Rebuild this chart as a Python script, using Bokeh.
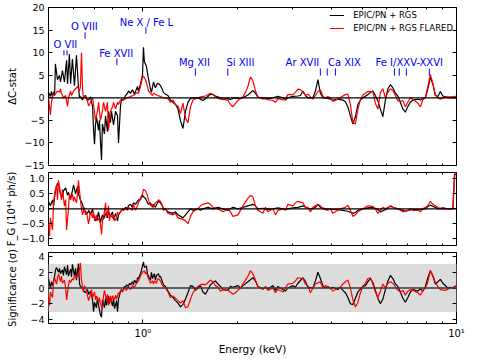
from bokeh.plotting import figure
from bokeh.models import (Range1d, FixedTicker, LogAxis, LinearAxis, Span,
                          BoxAnnotation, ColumnDataSource, Legend, LegendItem)
from bokeh.layouts import column
from bokeh.embed import file_html
from bokeh.resources import INLINE
from bokeh.core.properties import value

FONT = "DejaVu Sans"

# ------------------------------------------------------------------ data
# Delta C-stat, EPIC/PN + RGS (black)
dc_black_e = [
    0.500, 0.507, 0.511, 0.515, 0.519, 0.523, 0.526, 0.534, 0.542, 0.546,
    0.554, 0.562, 0.571, 0.575, 0.583, 0.588, 0.596, 0.605, 0.614, 0.623,
    0.628, 0.632, 0.642, 0.646, 0.656, 0.661, 0.671, 0.681, 0.691, 0.696,
    0.701, 0.706, 0.711, 0.716, 0.722, 0.727, 0.732, 0.738, 0.743, 0.754,
    0.760, 0.771, 0.777, 0.788, 0.794, 0.806, 0.818, 0.830, 0.836, 0.848,
    0.854, 0.867, 0.880, 0.893, 0.899, 0.913, 0.926, 0.940, 0.961, 0.968,
    0.982, 0.997, 1.004, 1.011, 1.026, 1.034, 1.042, 1.057, 1.065, 1.081,
    1.096, 1.113, 1.129, 1.146, 1.163, 1.180,
    1.202, 1.224, 1.247, 1.270, 1.294, 1.317, 1.342, 1.367, 1.392, 1.418,
    1.444, 1.498, 1.526, 1.554, 1.583, 1.612, 1.642, 1.673, 1.703, 1.767,
    1.800, 1.867, 1.902, 1.937, 1.973, 2.046, 2.084, 2.162, 2.243, 2.285,
    2.327, 2.414, 2.504, 2.598, 2.695, 2.796, 2.847, 2.900, 3.009, 3.121,
    3.179, 3.238, 3.298, 3.359, 3.485, 3.549, 3.615, 3.681, 3.750, 3.819,
    3.962, 4.035, 4.186, 4.342, 4.423, 4.505, 4.588, 4.673, 4.760, 4.848,
    4.938, 5.029, 5.217, 5.314, 5.412, 5.512, 5.614, 5.718, 5.824, 5.932,
    6.042, 6.154, 6.268, 6.384, 6.502, 6.622, 6.745, 6.870, 6.997, 7.127,
    7.259, 7.530, 7.670, 7.812, 7.956, 8.104, 8.254, 8.407, 8.562, 8.721,
    8.882, 9.047, 9.214, 9.558, 10.0]
dc_black = [
    1.2, 0.3, 1.4, 0.2, 1.3, 0.5, 7.5, 4.0, 5.0, 3.5,
    6.0, 3.5, 8.3, 3.1, 9.7, 3.1, 8.6, 2.7, 9.4, 2.4,
    0.1, 0.3, -0.5, 0.2, 0.5, -0.3, -0.5, 0.2, -2.0, -7.0,
    -10.3, -6.0, -4.3, -5.5, -7.2, -5.0, -9.5, -13.8, -5.8, -8.0,
    -4.0, -7.5, -3.0, -5.5, -3.0, -6.0, -3.0, -4.0, -10.0, -2.0,
    -0.3, -0.5, 0.5, 1.0, 1.5, 1.0, 1.8, 0.8, 2.5, 1.5,
    3.0, 5.0, 11.2, 8.0, 7.0, 5.5, 4.2, 2.0, 1.2, 3.5,
    2.2, 3.2, 3.0, 2.3, 1.2, 0.8,
    0.5, -0.5, -1.0, -1.5, -2.5, -5.0, -6.8, -3.0, -1.0, -0.2,
    0.0, 0.0, -0.3, -0.6, -0.2, 0.3, 0.8, 0.7, 0.4, 0.0,
    -0.3, -0.2, -0.4, -0.1, 0.0, -0.2, 0.0, 0.6, 1.6, 1.0,
    0.1, 0.0, -0.2, 0.0, 0.3, 0.0, -0.5, 0.0, 0.3, 0.4,
    0.5, 1.5, 0.5, 0.0, 0.0, 1.5, 4.0, 1.0, 0.0, 0.0,
    -0.3, -0.5, -0.3, -0.5, -0.9, -2.0, -4.0, -5.8, -4.2, -1.5,
    -0.5, 0.0, 0.7, 1.2, 1.5, 0.5, -0.7, -2.5, -4.2, -0.5,
    2.0, 2.9, 2.2, 1.0, 0.4, -1.0, -2.5, -3.2, -1.9, -1.0,
    -0.5, -0.3, -0.5, -0.2, 0.0, 2.0, 4.5, 3.0, 0.5, 0.3,
    1.4, 0.4, 0.2, 0.0, 0.0]

# Delta C-stat, EPIC/PN + RGS FLARED (red)
dc_red_e = [
    0.500, 0.507, 0.511, 0.515, 0.519, 0.526, 0.534, 0.542, 0.546, 0.550,
    0.558, 0.567, 0.575, 0.579, 0.588, 0.592, 0.601, 0.610, 0.619, 0.623,
    0.628, 0.632, 0.637, 0.642, 0.646, 0.656, 0.666, 0.671, 0.681, 0.691,
    0.696, 0.706, 0.716, 0.722, 0.732, 0.743, 0.749, 0.760, 0.771, 0.777,
    0.788, 0.800, 0.806, 0.818, 0.830, 0.836, 0.848, 0.867, 0.893, 0.913,
    0.933, 0.961, 0.968, 0.982, 0.997, 1.004, 1.019, 1.034, 1.042, 1.057,
    1.073, 1.081, 1.113, 1.137, 1.163, 1.180,
    1.202, 1.224, 1.247, 1.270, 1.294, 1.317, 1.342, 1.367, 1.392, 1.418,
    1.444, 1.498, 1.526, 1.583, 1.642, 1.673, 1.703, 1.767, 1.867, 1.902,
    1.937, 1.973, 2.010, 2.046, 2.084, 2.123, 2.162, 2.202, 2.243, 2.285,
    2.327, 2.414, 2.459, 2.504, 2.598, 2.646, 2.695, 2.745, 2.796, 2.847,
    2.900, 3.009, 3.064, 3.121, 3.179, 3.238, 3.298, 3.359, 3.421, 3.485,
    3.549, 3.615, 3.681, 3.750, 3.819, 3.890, 3.962, 4.035, 4.186, 4.263,
    4.342, 4.423, 4.505, 4.588, 4.673, 4.760, 4.848, 4.938, 5.029, 5.122,
    5.217, 5.412, 5.512, 5.614, 5.718, 5.824, 5.932, 6.042, 6.154, 6.268,
    6.384, 6.502, 6.622, 6.745, 6.870, 6.997, 7.127, 7.259, 7.393, 7.530,
    7.670, 7.812, 7.956, 8.104, 8.254, 8.407, 8.562, 8.721, 8.882, 9.214,
    9.558, 10.0]
dc_red = [
    0.0, -3.8, -1.0, 0.3, 1.0, 0.8, 1.5, 1.2, 2.0, 1.0,
    0.0, 0.5, -1.9, 0.0, 1.5, 0.5, 1.5, 2.0, 2.5, 2.0,
    1.5, 2.5, 10.0, 2.0, 0.0, 0.3, -0.8, -1.8, -1.0, 0.0,
    -1.5, -5.0, -3.0, -1.0, -5.0, -3.0, -1.0, -3.0, -1.0, -7.2,
    -3.0, -2.0, -1.0, -2.5, -1.0, -1.5, -0.5, -0.5, 0.0, 0.3,
    0.5, 1.2, 1.0, 2.5, 4.5, 4.8, 4.0, 2.5, 1.5, 1.0,
    0.5, 1.0, 0.5, 0.3, 0.0, -0.1,
    -0.2, -1.0, -0.5, -1.5, -1.8, -3.5, -1.2, -4.5, -5.5, -2.0,
    -0.5, 0.0, 0.2, 0.4, 1.0, 0.7, 0.2, -0.3, -0.5, -1.5,
    -2.0, -1.3, -0.6, -0.1, 0.2, 1.2, 2.5, 4.6, 3.8, 1.5,
    0.2, -0.3, -0.2, -0.4, -0.6, -1.0, -0.2, -0.3, -0.5, -0.3,
    0.7, 0.7, 1.2, 1.9, 1.8, 1.3, 0.5, 0.8, 0.2, -0.3,
    0.5, 1.4, 1.8, 0.3, 0.0, 0.3, 0.0, -0.8, -0.3, 0.0,
    0.4, 0.7, 0.8, -1.5, -5.5, -5.8, -2.5, -0.5, 0.6, 1.0,
    1.4, 1.3, -1.2, -2.5, 1.2, 2.0, 0.0, 1.2, 2.0, 1.6,
    0.5, -0.7, -0.8, -0.6, -2.0, -1.0, 0.0, -0.4, -0.7, -1.2,
    -2.0, -0.4, 0.0, 2.5, 5.2, 3.2, 0.6, 0.0, -0.3, 0.2,
    0.2, 0.3]

# F_G (10^41 ph/s), black
fg_black_e = [
    0.500, 0.507, 0.515, 0.519, 0.526, 0.534, 0.538, 0.546, 0.554, 0.558,
    0.567, 0.575, 0.579, 0.588, 0.596, 0.601, 0.610, 0.619, 0.623, 0.632,
    0.642, 0.646, 0.656, 0.666, 0.671, 0.681, 0.691, 0.696, 0.706, 0.716,
    0.722, 0.732, 0.743, 0.749, 0.760, 0.771, 0.777, 0.788, 0.800, 0.806,
    0.818, 0.830, 0.836, 0.848, 0.861, 0.867, 0.880, 0.893, 0.899, 0.913,
    0.926, 0.933, 0.947, 0.961, 0.968, 0.982, 0.997, 1.004, 1.019, 1.034,
    1.042, 1.057, 1.073, 1.081, 1.096, 1.113, 1.121, 1.137, 1.154, 1.163,
    1.180, 1.202, 1.247, 1.270, 1.294, 1.342, 1.367, 1.392, 1.418, 1.444,
    1.498, 1.526, 1.554, 1.612, 1.673, 1.735, 1.800, 1.867, 1.937, 2.010,
    2.084, 2.162, 2.243, 2.285, 2.327, 2.414, 2.504, 2.598, 2.695, 2.796,
    2.847, 2.900, 3.009, 3.121, 3.238, 3.359, 3.485, 3.549, 3.615, 3.681,
    3.819, 3.962, 4.186, 4.342, 4.505, 4.673, 4.760, 4.848, 5.029, 5.217,
    5.412, 5.614, 5.718, 5.932, 6.042, 6.154, 6.268, 6.502, 6.745, 6.870,
    6.997, 7.259, 7.670, 7.956, 8.104, 8.254, 8.562, 8.721, 9.047, 9.385,
    9.735, 9.855, 10.0]
fg_black = [
    0.25, 0.1, 0.3, 0.1, 0.6, 0.85, 0.8, 0.5, 0.4, 0.6,
    0.7, 0.45, 0.55, 0.35, 0.6, 0.8, 0.5, 0.75, 0.5, 0.3,
    0.15, 0.0, -0.1, -0.15, -0.05, -0.2, 0.0, -0.2, -0.4, -0.3,
    -0.1, -0.45, -0.2, -0.35, -0.15, -0.3, -0.1, -0.25, -0.1, -0.35,
    -0.15, -0.4, -0.2, -0.1, 0.0, -0.05, 0.05, 0.0, 0.1, 0.15,
    0.05, 0.2, 0.15, 0.25, 0.3, 0.3, 0.45, 0.4, 0.35, 0.2,
    0.15, 0.2, 0.05, 0.15, 0.05, 0.2, 0.25, 0.2, 0.1, 0.0,
    0.0, -0.1, -0.15, -0.1, -0.2, -0.3, -0.2, -0.1, 0.0, -0.05,
    0.0, -0.05, 0.0, 0.05, 0.0, 0.05, 0.0, -0.05, 0.05, 0.0,
    0.05, 0.1, 0.15, 0.1, 0.0, 0.02, -0.02, 0.0, 0.03, 0.0,
    -0.03, 0.0, 0.03, 0.05, 0.1, 0.02, 0.0, 0.05, 0.15, 0.05,
    0.0, -0.02, -0.03, -0.05, -0.08, -0.15, -0.12, -0.05, 0.0, 0.03,
    0.05, -0.02, -0.1, -0.03, 0.03, 0.1, 0.05, 0.0, -0.05, -0.08,
    -0.05, -0.02, -0.03, 0.0, 0.08, 0.12, 0.05, 0.0, 0.03, 0.0,
    0.0, 1.15, 1.15]

# F_G (10^41 ph/s), red
fg_red_e = [
    0.500, 0.504, 0.507, 0.515, 0.519, 0.523, 0.530, 0.534, 0.538, 0.546,
    0.550, 0.554, 0.562, 0.567, 0.571, 0.579, 0.583, 0.588, 0.596, 0.601,
    0.605, 0.614, 0.619, 0.623, 0.632, 0.637, 0.642, 0.651, 0.656, 0.661,
    0.671, 0.676, 0.681, 0.691, 0.696, 0.701, 0.711, 0.716, 0.722, 0.732,
    0.738, 0.743, 0.754, 0.760, 0.765, 0.777, 0.782, 0.788, 0.800, 0.806,
    0.812, 0.824, 0.830, 0.836, 0.848, 0.861, 0.867, 0.880, 0.893, 0.899,
    0.913, 0.926, 0.933, 0.947, 0.961, 0.968, 0.982, 0.997, 1.004, 1.019,
    1.034, 1.042, 1.057, 1.073, 1.081, 1.096, 1.113, 1.121, 1.137, 1.154,
    1.163,
    1.180, 1.202, 1.247, 1.270, 1.294, 1.342, 1.367, 1.392, 1.418, 1.444,
    1.498, 1.526, 1.554, 1.612, 1.642, 1.673, 1.735, 1.767, 1.800, 1.867,
    1.902, 1.937, 2.010, 2.046, 2.084, 2.162, 2.202, 2.243, 2.285, 2.327,
    2.414, 2.459, 2.504, 2.598, 2.646, 2.695, 2.796, 2.847, 2.900, 3.009,
    3.064, 3.121, 3.238, 3.298, 3.359, 3.421, 3.485, 3.615, 3.681, 3.750,
    3.890, 3.962, 4.035, 4.186, 4.263, 4.423, 4.505, 4.588, 4.673, 4.760,
    4.848, 5.029, 5.122, 5.217, 5.412, 5.512, 5.614, 5.718, 5.824, 5.932,
    6.042, 6.154, 6.268, 6.502, 6.622, 6.745, 6.997, 7.127, 7.259, 7.530,
    7.670, 7.812, 8.104, 8.254, 8.407, 8.721, 8.882, 9.735, 9.916, 10.0]
fg_red = [
    -0.5, -0.9, -0.3, -0.7, 0.2, 0.5, 0.8, 0.3, 0.95, 0.5,
    0.3, 0.65, 0.1, 0.3, -0.7, 0.0, 0.5, 0.3, 0.5, 0.25,
    0.4, 0.2, 0.5, 0.95, 0.3, 0.0, -0.2, 0.05, -0.2, -0.1,
    -0.5, -0.3, -0.1, -0.3, -0.1, -0.4, -0.2, -0.4, -0.3, -0.5,
    -0.85, -0.4, -0.1, 0.2, -0.3, 0.1, -0.4, -0.2, -0.3, -0.2,
    -0.4, -0.3, -0.1, -0.2, -0.1, 0.0, -0.05, 0.0, -0.05, 0.05,
    0.0, -0.05, 0.15, -0.05, 0.1, 0.2, 0.35, 0.5, 0.65, 0.6,
    0.45, 0.3, 0.1, 0.15, 0.05, 0.2, 0.25, 0.3, 0.25, 0.1,
    -0.05,
    0.0, -0.15, -0.2, -0.15, -0.3, -0.35, -0.4, -0.5, -0.25, -0.1,
    0.0, 0.1, 0.15, 0.2, 0.15, 0.05, 0.0, -0.05, -0.1, 0.0,
    -0.1, -0.25, -0.2, -0.05, 0.1, 0.35, 0.45, 0.4, 0.1, -0.05,
    -0.15, 0.05, -0.1, 0.0, -0.2, -0.05, 0.0, -0.05, 0.15, 0.1,
    0.2, 0.25, 0.2, 0.05, 0.05, -0.1, 0.05, 0.15, 0.1, 0.0,
    -0.05, 0.0, -0.15, -0.05, 0.0, 0.05, 0.12, -0.05, -0.25, -0.2,
    -0.1, 0.0, 0.05, 0.1, 0.08, 0.0, -0.15, -0.05, 0.05, 0.0,
    0.05, 0.08, 0.05, 0.0, -0.05, -0.1, -0.05, 0.0, -0.05, -0.05,
    -0.1, 0.0, 0.1, 0.25, 0.15, 0.05, 0.0, 0.0, 1.4, 1.4]

# Significance (sigma), black
sig_black_e = [
    0.500, 0.507, 0.511, 0.515, 0.523, 0.526, 0.530, 0.538, 0.542, 0.546,
    0.554, 0.558, 0.562, 0.571, 0.575, 0.579, 0.588, 0.592, 0.596, 0.605,
    0.610, 0.614, 0.623, 0.628, 0.632, 0.642, 0.646, 0.656, 0.666, 0.671,
    0.681, 0.691, 0.696, 0.701, 0.711, 0.716, 0.722, 0.732, 0.738, 0.743,
    0.754, 0.760, 0.765, 0.777, 0.782, 0.788, 0.800, 0.806, 0.812, 0.824,
    0.830, 0.836, 0.848, 0.854, 0.861, 0.873, 0.880, 0.886, 0.899, 0.906,
    0.913, 0.926, 0.933, 0.940, 0.954, 0.961, 0.968, 0.982, 0.989, 0.997,
    1.004, 1.011, 1.026, 1.034, 1.042, 1.057, 1.065, 1.073, 1.088, 1.096,
    1.105, 1.121, 1.129, 1.137, 1.154, 1.163,
    1.180, 1.202, 1.224, 1.247, 1.270, 1.294, 1.317, 1.342, 1.367, 1.392,
    1.418, 1.444, 1.471, 1.498, 1.526, 1.554, 1.583, 1.612, 1.642, 1.673,
    1.703, 1.735, 1.767, 1.800, 1.867, 1.902, 1.937, 2.010, 2.046, 2.084,
    2.162, 2.243, 2.285, 2.327, 2.414, 2.459, 2.504, 2.598, 2.646, 2.695,
    2.796, 2.847, 2.900, 3.009, 3.064, 3.121, 3.238, 3.298, 3.359, 3.485,
    3.549, 3.615, 3.681, 3.750, 3.819, 3.890, 3.962, 4.035, 4.186, 4.263,
    4.342, 4.423, 4.505, 4.588, 4.673, 4.760, 4.848, 5.029, 5.122, 5.217,
    5.314, 5.412, 5.512, 5.614, 5.718, 5.824, 5.932, 6.042, 6.154, 6.268,
    6.384, 6.502, 6.622, 6.745, 6.870, 6.997, 7.127, 7.259, 7.530, 7.670,
    7.812, 7.956, 8.104, 8.254, 8.407, 8.562, 8.721, 8.882, 9.047, 9.385,
    9.558, 9.735, 10.0]
sig_black = [
    1.2, 0.0, 0.8, 0.3, 1.5, 2.2, 2.6, 2.0, 2.5, 1.8,
    2.3, 1.6, 2.7, 1.7, 2.9, 1.5, 2.4, 1.4, 3.0, 1.5,
    2.5, 1.0, 3.1, 0.5, 0.2, 0.0, -0.3, -0.6, -0.2, -0.8,
    -0.4, -1.5, -3.0, -1.8, -2.5, -1.2, -2.2, -3.4, -3.7, -1.5,
    -2.5, -1.3, -2.2, -1.0, -2.0, -1.2, -2.3, -1.4, -2.6, -1.6,
    -3.0, -1.4, -0.5, -0.2, -0.5, 0.2, 0.0, 0.4, 0.2, 0.6,
    0.4, 0.8, 0.4, 1.0, 0.6, 1.3, 1.2, 1.8, 2.2, 2.8,
    3.3, 2.6, 2.8, 1.8, 1.5, 1.0, 2.0, 1.2, 1.8, 1.0,
    1.6, 1.8, 1.4, 1.5, 0.8, 0.4,
    0.2, -0.4, -0.9, -1.2, -1.6, -1.9, -2.4, -2.1, -1.4, -0.6,
    0.3, 0.2, -0.3, 0.0, 0.3, -0.5, -0.8, -0.2, 0.4, 0.7,
    0.9, 0.5, 0.2, -0.2, -0.3, 0.2, 0.1, 0.3, 0.0, 0.3,
    0.8, 1.3, 0.9, 0.2, -0.1, 0.1, -0.1, 0.3, -0.3, 0.2,
    -0.2, -0.4, 0.0, 0.3, 0.1, 0.6, 1.3, 0.8, 0.1, 0.0,
    0.9, 2.0, 1.2, 0.3, 0.0, 0.2, -0.1, 0.1, -0.2, 0.1,
    -0.3, -0.6, -1.2, -2.0, -2.1, -1.3, -0.5, 0.2, 0.3, 0.8,
    1.2, 0.7, -0.3, -1.3, -2.0, -1.4, -0.2, 0.9, 1.6, 1.2,
    0.5, 0.2, -0.5, -1.3, -1.8, -1.2, -0.5, -0.2, -0.4, -0.1,
    -0.4, 0.2, 1.3, 2.2, 1.5, 0.5, 0.8, 1.1, 0.6, 0.0,
    0.1, 0.0, 0.3]

# Significance (sigma), red
sig_red_e = [
    0.500, 0.504, 0.507, 0.515, 0.519, 0.523, 0.530, 0.534, 0.538, 0.546,
    0.550, 0.554, 0.562, 0.567, 0.571, 0.579, 0.583, 0.588, 0.596, 0.601,
    0.605, 0.614, 0.619, 0.623, 0.632, 0.637, 0.642, 0.646, 0.651, 0.661,
    0.666, 0.671, 0.681, 0.686, 0.691, 0.701, 0.706, 0.711, 0.722, 0.727,
    0.732, 0.743, 0.749, 0.754, 0.765, 0.771, 0.777, 0.788, 0.794, 0.800,
    0.812, 0.818, 0.824, 0.836, 0.842, 0.848, 0.861, 0.873, 0.886, 0.899,
    0.913, 0.926, 0.940, 0.954, 0.968, 0.982, 0.997, 1.011, 1.019, 1.026,
    1.042, 1.049, 1.057, 1.073, 1.081, 1.088, 1.105, 1.113, 1.121, 1.137,
    1.146, 1.154, 1.171,
    1.180, 1.202, 1.224, 1.247, 1.270, 1.294, 1.317, 1.342, 1.367, 1.392,
    1.418, 1.444, 1.471, 1.498, 1.526, 1.554, 1.583, 1.612, 1.642, 1.673,
    1.703, 1.735, 1.767, 1.800, 1.867, 1.902, 1.937, 1.973, 2.010, 2.046,
    2.084, 2.162, 2.202, 2.243, 2.285, 2.327, 2.414, 2.459, 2.504, 2.598,
    2.646, 2.695, 2.796, 2.847, 2.900, 3.009, 3.064, 3.121, 3.238, 3.298,
    3.359, 3.421, 3.485, 3.549, 3.681, 3.750, 3.819, 3.962, 4.035, 4.110,
    4.263, 4.342, 4.423, 4.505, 4.588, 4.673, 4.760, 4.848, 4.938, 5.029,
    5.122, 5.217, 5.314, 5.412, 5.512, 5.614, 5.718, 5.824, 5.932, 6.042,
    6.154, 6.268, 6.502, 6.622, 6.745, 6.870, 6.997, 7.127, 7.259, 7.530,
    7.670, 7.812, 7.956, 8.104, 8.254, 8.407, 8.562, 8.721, 8.882, 9.214,
    9.558, 9.735, 10.0]
sig_red = [
    -1.0, -2.2, -0.5, -1.2, 0.8, 1.3, 0.5, 1.2, 1.8, 0.8,
    1.5, 0.6, 1.0, 0.0, -1.5, 0.3, 1.0, 0.7, 1.2, 1.0,
    1.6, 1.2, 1.8, 1.5, 3.2, 1.0, 0.0, -0.5, 0.3, -0.3,
    -1.0, -1.6, -0.8, -0.2, -1.2, -0.5, -1.5, -1.0, -1.8, -1.2,
    -2.0, -2.6, -1.0, -0.3, -1.5, -0.8, -2.2, -1.0, -1.8, -1.0,
    -1.5, -0.9, -1.4, -0.6, -0.8, -0.3, -0.4, 0.0, -0.3, 0.2,
    -0.2, 0.3, 0.1, 0.6, 0.9, 1.5, 2.0, 2.2, 1.8, 2.0,
    1.2, 1.0, 0.6, 0.9, 0.5, 0.9, 0.6, 1.1, 1.2, 0.9,
    0.6, 0.3, 0.1,
    0.0, -0.5, -1.2, -1.0, -1.3, -1.6, -1.9, -1.6, -2.5, -2.4,
    -1.4, -0.6, -0.2, 0.2, 0.4, 0.5, 0.4, 0.7, 1.0, 0.8,
    0.3, 0.1, -0.4, -0.2, -0.3, -0.5, -0.8, -0.6, -0.3, 0.0,
    0.5, 1.5, 2.2, 1.8, 1.0, 0.2, -0.2, 0.2, -0.3, 0.0,
    -0.6, -0.2, -0.5, 0.0, 0.5, 0.6, 0.9, 1.3, 1.2, 0.5,
    0.3, -0.6, 0.0, 0.5, 0.8, 0.0, 0.3, 0.0, -0.4, -0.2,
    0.1, 0.5, 0.8, 1.0, 0.0, -1.5, -2.4, -1.8, -0.6, 0.2,
    0.6, 1.2, 1.3, 0.5, -0.5, -1.2, -0.4, 0.5, 0.0, 0.6,
    0.8, 0.6, -0.3, -0.5, -0.3, -0.9, -0.4, -0.2, -0.3, -0.6,
    -0.9, -0.3, 0.0, 0.8, 2.2, 1.6, 0.7, 0.2, -0.2, -0.3,
    0.0, 0.1, 0.3]

# ion line identifications
ion_labels = ["O VII", "O VIII", "Fe XVII", "Ne X / Fe L", "Mg XII",
              "Si XIII", "Ar XVII", "Ca XIX", "Fe I/XXV-XXVI"]
ion_label_e = [0.566, 0.651, 0.822, 1.026, 1.46, 2.046, 3.226, 4.39, 7.07]
ion_label_y = [11.8, 15.8, 9.8, 16.7, 7.8, 7.8, 7.8, 7.8, 7.8]
line_e = [0.560, 0.573, 0.654, 0.826, 1.022, 1.47, 1.865,
          3.68, 3.87, 4.11, 6.34, 6.57, 6.92, 8.19]
line_y_top = [10.5, 10.5, 14.5, 8.7, 15.6, 6.5, 6.5,
              6.5, 6.5, 6.5, 6.5, 6.5, 6.5, 6.5]
line_y_bot = [9.4, 9.4, 13.1, 7.2, 14.2, 4.9, 4.9,
              4.9, 4.9, 4.9, 4.9, 4.9, 4.9, 4.9]

x_major = [1, 10]
x_minor = [0.5, 0.6, 0.7, 0.8, 0.9, 2, 3, 4, 5, 6, 7, 8, 9]
x_tick_labels = {1: "10⁰", 10: "10¹"}
dc_ticks = [-15, -10, -5, 0, 5, 10, 15, 20]
fg_ticks = [-1.0, -0.5, 0.0, 0.5, 1.0]
sig_ticks = [-4, -2, 0, 2, 4]

for a, b in [(dc_black_e, dc_black), (dc_red_e, dc_red), (fg_black_e, fg_black),
             (fg_red_e, fg_red), (sig_black_e, sig_black), (sig_red_e, sig_red)]:
    assert len(a) == len(b), (len(a), len(b))


# ------------------------------------------------------------------ helpers
def minus_labels(ticks, fmt):
    return {t: (fmt % t).replace("-", "\u2212") for t in ticks}


def style_axis(ax, size="9.5px"):
    ax.axis_line_color = None
    ax.major_tick_in = 4
    ax.major_tick_out = 0
    ax.minor_tick_in = 2
    ax.minor_tick_out = 0
    ax.major_tick_line_color = "black"
    ax.minor_tick_line_color = "black"
    ax.major_label_text_font = FONT
    ax.major_label_text_color = "black"
    ax.major_label_text_font_size = size
    ax.major_label_standoff = 4
    ax.axis_label_text_font = FONT
    ax.axis_label_text_font_style = "normal"
    ax.axis_label_text_font_size = "10px"
    ax.axis_label_text_color = "black"


def hide_labels(ax, ticks):
    # axis kept only for its inward tick marks
    ax.major_label_overrides = {t: " " for t in ticks}
    ax.major_label_text_font_size = "1px"
    ax.major_label_text_alpha = 0
    ax.major_label_standoff = 0


xr = Range1d(0.5, 10)


def make_fig(height, yr, ticks, labels, ylabel, ylabel_standoff, bt, bb, show_x):
    p = figure(width=472, height=height, x_axis_type="log", x_range=xr, y_range=yr,
               output_backend="svg", toolbar_location=None,
               min_border_left=48, min_border_right=16,
               min_border_top=bt, min_border_bottom=bb)
    p.grid.visible = False
    p.outline_line_color = "black"
    p.outline_line_width = 1
    p.background_fill_color = "white"
    p.border_fill_color = "white"

    xa = p.xaxis[0]
    xa.ticker = FixedTicker(ticks=x_major, minor_ticks=x_minor)
    style_axis(xa, "10px")
    if show_x:
        xa.major_label_overrides = x_tick_labels
        xa.major_label_standoff = 4
        xa.axis_label = "Energy (keV)"
        xa.axis_label_standoff = 1
        xa.axis_label_text_font_size = "10.5px"
    else:
        hide_labels(xa, x_major)
    top = LogAxis(ticker=FixedTicker(ticks=x_major, minor_ticks=x_minor))
    style_axis(top)
    hide_labels(top, x_major)
    p.add_layout(top, "above")

    ya = p.yaxis[0]
    ya.ticker = FixedTicker(ticks=ticks, minor_ticks=[])
    ya.major_label_overrides = labels
    style_axis(ya)
    ya.axis_label = ylabel
    ya.axis_label_standoff = ylabel_standoff
    right = LinearAxis(ticker=FixedTicker(ticks=ticks, minor_ticks=[]))
    style_axis(right)
    hide_labels(right, ticks)
    p.add_layout(right, "right")
    return p


# ------------------------------------------------------------------ panel 1
p1 = make_fig(172, Range1d(-15, 20), dc_ticks, minus_labels(dc_ticks, "%d"),
              "ΔC-stat", 3, 7, 7, False)
p1.add_layout(Span(location=0, dimension="width", line_color="black", line_width=1.3))
r1 = p1.line(dc_black_e, dc_black, line_color="black", line_width=1.2)
r2 = p1.line(dc_red_e, dc_red, line_color="red", line_width=1.2)

src_lbl = ColumnDataSource(dict(x=ion_label_e, y=ion_label_y, t=ion_labels))
p1.text(x="x", y="y", text="t", source=src_lbl, text_color="blue",
        text_font=value(FONT), text_font_size=value("10px"),
        text_align="center", text_baseline="middle")
src_mk = ColumnDataSource(dict(x=line_e, y0=line_y_bot, y1=line_y_top))
p1.segment(x0="x", y0="y0", x1="x", y1="y1", source=src_mk,
           line_color="blue", line_width=1)

legend = Legend(items=[LegendItem(label="EPIC/PN + RGS", renderers=[r1]),
                       LegendItem(label="EPIC/PN + RGS FLARED", renderers=[r2])],
                location="top_right")
legend.label_text_font = FONT
legend.label_text_font_size = "8.5px"
legend.label_text_color = "black"
legend.border_line_color = None
legend.background_fill_alpha = 0
legend.glyph_width = 15
legend.glyph_height = 10
legend.label_height = 10
legend.label_standoff = 9
legend.spacing = 3
legend.padding = 3
legend.margin = 3
p1.add_layout(legend)

# ------------------------------------------------------------------ panel 2
p2 = make_fig(76, Range1d(-1.22, 1.21), fg_ticks, minus_labels(fg_ticks, "%.1f"),
              "F_G (10⁴¹ ph/s)", 1, 0, 3, False)
p2.add_layout(Span(location=0, dimension="width", line_color="black", line_width=1.3))
p2.line(fg_black_e, fg_black, line_color="black", line_width=1.2)
p2.line(fg_red_e, fg_red, line_color="red", line_width=1.2)

# ------------------------------------------------------------------ panel 3
p3 = make_fig(110, Range1d(-4.5, 4.5), sig_ticks, minus_labels(sig_ticks, "%d"),
              "Significance (σ)", 9, 4, 35, True)
p3.add_layout(BoxAnnotation(bottom=-3, top=3, fill_color="#dcdcdc", fill_alpha=1.0,
                            line_color="#bdbdbd", line_width=1, level="underlay"))
p3.add_layout(Span(location=0, dimension="width", line_color="#3a3a3a", line_width=1.5))
p3.line(sig_black_e, sig_black, line_color="black", line_width=1.2)
p3.line(sig_red_e, sig_red, line_color="red", line_width=1.2)

layout = column(p1, p2, p3)
open("out.html", "w").write(file_html(layout, INLINE))
